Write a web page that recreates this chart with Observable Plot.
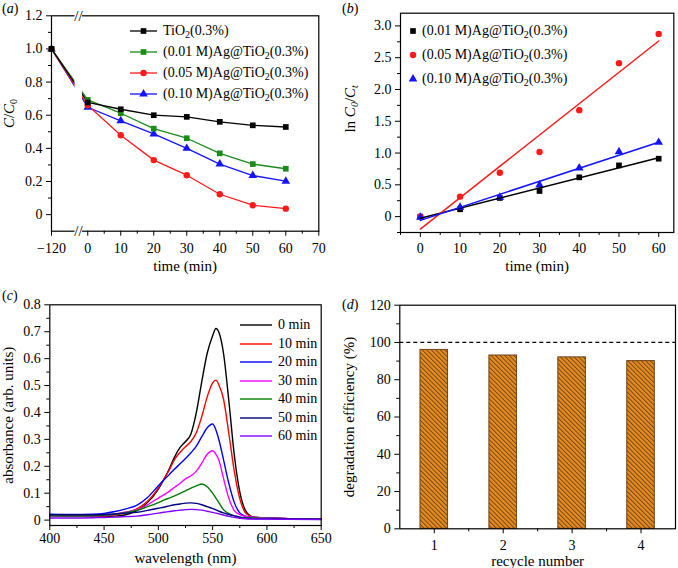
<!DOCTYPE html>
<html>
<head>
<meta charset="utf-8">
<script src="https://cdn.jsdelivr.net/npm/d3@7"></script>
<script src="https://cdn.jsdelivr.net/npm/@observablehq/plot@0.6"></script>
<style>
  html, body { margin: 0; padding: 0; background: #fff; }
  #fig { position: relative; width: 678px; height: 568px; overflow: hidden; font-family: "Liberation Serif", "Times New Roman", serif; color: #000; }
  .panel { position: absolute; }
  .plabel { position: absolute; font-size: 14px; line-height: 14px; }
  .lrow { position: absolute; height: 18px; display: flex; align-items: center; font-size: 14px; white-space: nowrap; }
  .lrow svg { display: block; flex: none; }
  sub { font-size: 10px; vertical-align: -3px; line-height: 0; }
</style>
</head>
<body>
<div id="fig"></div>
<script>
// ---------------- DATA ----------------
// (a) C/C0 vs time
const timeA = [-120, 0, 10, 20, 30, 40, 50, 60];
const seriesA = ["TiO2(0.3%)", "(0.01 M)Ag@TiO2(0.3%)", "(0.05 M)Ag@TiO2(0.3%)", "(0.10 M)Ag@TiO2(0.3%)"];
const cTiO2 = [1.0, 0.677, 0.636, 0.600, 0.590, 0.560, 0.539, 0.529];
const c001  = [1.0, 0.693, 0.612, 0.519, 0.461, 0.370, 0.305, 0.277];
const c005  = [1.0, 0.660, 0.479, 0.329, 0.238, 0.123, 0.057, 0.036];
const c010  = [1.0, 0.648, 0.566, 0.487, 0.400, 0.305, 0.236, 0.202];
const xTicksA = [-120, 0, 10, 20, 30, 40, 50, 60, 70];
const xMinorA = [5, 15, 25, 35, 45, 55, 65];
const yTicksA = [0, 0.2, 0.4, 0.6, 0.8, 1.0, 1.2];
const yMinorA = [0.1, 0.3, 0.5, 0.7, 0.9, 1.1];

// (b) ln(C0/Ct) vs time
const timeB = [0, 10, 20, 30, 40, 50, 60];
const seriesB = ["(0.01 M)Ag@TiO2(0.3%)", "(0.05 M)Ag@TiO2(0.3%)", "(0.10 M)Ag@TiO2(0.3%)"];
const ln001 = [0.0, 0.115, 0.293, 0.403, 0.618, 0.806, 0.911];
const ln005 = [0.0, 0.314, 0.691, 1.016, 1.675, 2.414, 2.874];
const ln010 = [-0.01, 0.147, 0.304, 0.497, 0.764, 1.021, 1.168];
const xTicksB = [0, 10, 20, 30, 40, 50, 60];
const xMinorB = [-5, 5, 15, 25, 35, 45, 55];
const yTicksB = [0, 0.5, 1.0, 1.5, 2.0, 2.5, 3.0];
const yMinorB = [-0.25, 0.25, 0.75, 1.25, 1.75, 2.25, 2.75];

// (c) absorbance spectra
const wavelength = [400, 420, 440, 450, 460, 470, 480, 490, 500, 505, 510, 515, 520, 525, 530, 535, 540, 545, 550, 553, 556, 560, 565, 570, 575, 580, 585, 590, 600, 620, 650];
const seriesC = ["0 min", "10 min", "20 min", "30 min", "40 min", "50 min", "60 min"];
const abs0  = [.020,.018,.015,.014,.015,.020,.035,.065,.115,.150,.190,.235,.270,.292,.320,.400,.515,.620,.685,.712,.695,.620,.440,.240,.105,.037,.015,.010,.008,.005,.003];
const abs10 = [.018,.017,.016,.016,.020,.028,.042,.070,.120,.152,.186,.226,.252,.273,.292,.325,.385,.458,.510,.520,.500,.450,.320,.180,.080,.028,.014,.010,.008,.005,.003];
const abs20 = [.022,.021,.022,.025,.032,.042,.055,.084,.128,.149,.169,.190,.209,.229,.250,.275,.310,.343,.357,.335,.295,.225,.135,.065,.027,.015,.011,.010,.008,.005,.003];
const abs30 = [.015,.014,.015,.017,.022,.030,.038,.057,.082,.094,.107,.122,.137,.153,.165,.182,.212,.245,.258,.245,.220,.155,.080,.035,.020,.014,.011,.010,.008,.005,.003];
const abs40 = [.016,.015,.016,.018,.022,.028,.036,.050,.065,.074,.082,.090,.099,.109,.119,.127,.134,.124,.100,.082,.063,.039,.024,.016,.011,.009,.008,.008,.007,.005,.003];
const abs50 = [.020,.020,.020,.021,.023,.026,.029,.036,.044,.048,.053,.057,.060,.063,.064,.062,.057,.050,.043,.038,.033,.027,.021,.016,.011,.007,.006,.005,.005,.004,.003];
const abs60 = [.008,.008,.009,.010,.011,.013,.015,.020,.026,.029,.032,.035,.037,.039,.040,.039,.037,.033,.029,.026,.023,.019,.014,.010,.007,.005,.004,.004,.004,.003,.002];
const xTicksC = [400, 450, 500, 550, 600, 650];
const xMinorC = [425, 475, 525, 575, 625];
const yTicksC = [0, 0.1, 0.2, 0.3, 0.4, 0.5, 0.6, 0.7, 0.8];
const yMinorC = [0.05, 0.15, 0.25, 0.35, 0.45, 0.55, 0.65, 0.75];

// (d) recycling
const cycles = [1, 2, 3, 4];
const efficiency = [96, 93, 92, 90];
const reference100 = [100];
const xMinorD = [1.5, 2.5, 3.5];
const yTicksD = [0, 20, 40, 60, 80, 100, 120];
const yMinorD = [10, 30, 50, 70, 90, 110];

// ---------------- STYLE ----------------
const colorsA = ["#000000", "#1a8c1a", "#ff1a1a", "#1414ff"];
const symbolsA = ["square", "square", "circle", "triangle"];
const colorsB = ["#000000", "#ff1a1a", "#1414ff"];
const symbolsB = ["square", "circle", "triangle"];
const colorsC = ["#000000", "#ff0000", "#0000ff", "#ff00ff", "#007a00", "#000080", "#7f00ff"];
const FONT = "Liberation Serif";
const baseStyle = {fontFamily: FONT, fontSize: "14px", background: "transparent", overflow: "visible", color: "#000"};
const fmt1 = d => d === 0 ? "0" : d.toFixed(1);
const fmtMinus = d => d < 0 ? "\u2212" + (-d) : String(d);
const blank = () => "";

// axis break on panel (a)
const breakPivot = -2.8, breakLo = -18, breakHi = -1.6;
const yDomA = [-0.1, 1.2];
const breakBand = [{x1: breakLo, x2: breakHi, y1: yDomA[0], y2: yDomA[1]}];
const breakMarks = [{x: breakPivot, y: yDomA[0], s: "//"}, {x: breakPivot, y: yDomA[1], s: "//"}];

const fig = document.getElementById("fig");
function place(el, left, top) {
  const d = document.createElement("div");
  d.className = "panel"; d.style.left = left + "px"; d.style.top = top + "px";
  d.appendChild(el); fig.appendChild(d); return d;
}
function setLabel(svg, axis, html, size, shift) {
  const t = d3.select(svg).select(`g[aria-label="${axis}-axis label"] text`);
  if (t.empty()) return;
  t.html(html).attr("font-size", size);
  if (shift) t.attr("dx", shift);
}

// ---------------- (a) ----------------
const valsA = [cTiO2, c001, c005, c010];
const dataA = [];
for (let i = seriesA.length - 1; i >= 0; --i)
  timeA.forEach((t, j) => dataA.push({series: seriesA[i], t, c: valsA[i][j]}));

const plotA = Plot.plot({
  width: 330, height: 272,
  marginLeft: 51, marginRight: 11.7, marginTop: 15.3, marginBottom: 41.3,
  style: baseStyle,
  x: {type: "linear", domain: [-120, breakPivot, 70], range: [51, 78, 318.3]},
  y: {domain: yDomA},
  color: {domain: seriesA, range: colorsA},
  symbol: {domain: seriesA, range: symbolsA},
  marks: [
    Plot.axisX({ticks: xTicksA, tickSize: 5, tickPadding: 7, tickFormat: fmtMinus, label: "time (min)", labelAnchor: "center", labelOffset: 40}),
    Plot.axisX({ticks: xMinorA, tickSize: 3, tickFormat: blank, label: null}),
    Plot.axisY({ticks: yTicksA, tickSize: 5, tickPadding: 4, tickFormat: fmt1, label: "C/C0", labelAnchor: "center", labelOffset: 48}),
    Plot.axisY({ticks: yMinorA, tickSize: 3, tickFormat: blank, label: null}),
    Plot.line(dataA, {x: "t", y: "c", z: "series", stroke: "series", strokeWidth: 1.3}),
    Plot.dot(dataA, {x: "t", y: "c", symbol: "series", fill: "series", stroke: "none", r: 3.2}),
    Plot.frame({stroke: "#000", strokeWidth: 1.2}),
    Plot.rect(breakBand, {x1: "x1", x2: "x2", y1: "y1", y2: "y2", fill: "white", stroke: "none", insetTop: -3, insetBottom: -3}),
    Plot.text(breakMarks, {x: "x", y: "y", text: "s", fontSize: 15, fill: "#000"})
  ]
});
place(plotA, 0, 0);
setLabel(plotA, "y", '<tspan font-style="italic">C</tspan>/<tspan font-style="italic">C</tspan><tspan font-size="10" dy="3">0</tspan>', 15, 10);
setLabel(plotA, "x", "time (min)", 15);

// ---------------- (b) ----------------
const valsB = [ln001, ln005, ln010];
const dataB = [];
seriesB.forEach((s, i) => timeB.forEach((t, j) => dataB.push({series: s, t, v: valsB[i][j]})));

const plotB = Plot.plot({
  width: 338, height: 272,
  marginLeft: 60, marginRight: 4.7, marginTop: 12.7, marginBottom: 40,
  style: baseStyle,
  x: {domain: [-5, 63.8]},
  y: {domain: [-0.25, 3.2]},
  color: {domain: seriesB, range: colorsB},
  symbol: {domain: seriesB, range: symbolsB},
  marks: [
    Plot.axisX({ticks: xTicksB, tickSize: 5, tickPadding: 6, tickFormat: d => String(d), label: "time (min)", labelAnchor: "center", labelOffset: 38}),
    Plot.axisX({ticks: xMinorB, tickSize: 3, tickFormat: blank, label: null}),
    Plot.axisY({ticks: yTicksB, tickSize: 5, tickPadding: 4, tickFormat: fmt1, label: "ln C0/Ct", labelAnchor: "center", labelOffset: 56}),
    Plot.axisY({ticks: yMinorB, tickSize: 3, tickFormat: blank, label: null}),
    Plot.dot(dataB, {x: "t", y: "v", symbol: "series", fill: "series", stroke: "none", r: 3.2}),
    Plot.linearRegressionY(dataB, {x: "t", y: "v", stroke: "series", ci: 0, strokeWidth: 1.5}),
    Plot.frame({stroke: "#000", strokeWidth: 1.2})
  ]
});
place(plotB, 340, 0);
setLabel(plotB, "y", 'ln <tspan font-style="italic">C</tspan><tspan font-size="10" dy="3" font-style="italic">0</tspan><tspan dy="-3">/</tspan><tspan font-style="italic">C</tspan><tspan font-size="10" dy="3" font-style="italic">t</tspan>', 15, 14);
setLabel(plotB, "x", "time (min)", 15);

// ---------------- (c) ----------------
const valsC = [abs0, abs10, abs20, abs30, abs40, abs50, abs60];
const dataC = [];
seriesC.forEach((s, i) => wavelength.forEach((w, j) => dataC.push({series: s, w, a: valsC[i][j]})));

const plotC = Plot.plot({
  width: 330, height: 286,
  marginLeft: 49.3, marginRight: 9.3, marginTop: 22.3, marginBottom: 43,
  style: baseStyle,
  x: {domain: [400, 650]},
  y: {domain: [-0.02, 0.8]},
  color: {domain: seriesC, range: colorsC},
  marks: [
    Plot.axisX({ticks: xTicksC, tickSize: 5, tickPadding: 3, tickFormat: d => String(d), label: "wavelength (nm)", labelAnchor: "center", labelOffset: 37}),
    Plot.axisX({ticks: xMinorC, tickSize: 3, tickFormat: blank, label: null}),
    Plot.axisY({ticks: yTicksC, tickSize: 5, tickPadding: 4, tickFormat: fmt1, label: "absorbance (arb. units)", labelAnchor: "center", labelOffset: 47}),
    Plot.axisY({ticks: yMinorC, tickSize: 3, tickFormat: blank, label: null}),
    Plot.line(dataC, {x: "w", y: "a", z: "series", stroke: "series", strokeWidth: 1.4, curve: "monotone-x"}),
    Plot.frame({stroke: "#000", strokeWidth: 1.2})
  ]
});
place(plotC, 0, 282);
setLabel(plotC, "x", "wavelength (nm)", 15);
setLabel(plotC, "y", "absorbance (arb. units)", 15);

// ---------------- (d) ----------------
const dataD = cycles.map((c, i) => ({cycle: c, eff: efficiency[i]}));
const halfBar = 0.2;
const plotD = Plot.plot({
  width: 338, height: 286,
  marginLeft: 59.3, marginRight: 3, marginTop: 22.7, marginBottom: 39.7,
  style: baseStyle,
  x: {domain: [0.5, 4.5]},
  y: {domain: [0, 120]},
  marks: [
    Plot.axisX({ticks: cycles, tickSize: 5, tickPadding: 6, tickFormat: d => String(d), label: "recycle number", labelAnchor: "center", labelOffset: 37}),
    Plot.axisX({ticks: xMinorD, tickSize: 3, tickFormat: blank, label: null}),
    Plot.axisY({ticks: yTicksD, tickSize: 5, tickPadding: 4, tickFormat: d => String(d), label: "degradation efficiency (%)", labelAnchor: "center", labelOffset: 56}),
    Plot.axisY({ticks: yMinorD, tickSize: 3, tickFormat: blank, label: null}),
    Plot.rectY(dataD, {x1: d => d.cycle - halfBar, x2: d => d.cycle + halfBar, y1: 0, y2: "eff", fill: "url(#hatchD)", stroke: "#6b4418", strokeWidth: 1}),
    Plot.ruleY(reference100, {stroke: "#000", strokeWidth: 1.2, strokeDasharray: "4,3"}),
    Plot.frame({stroke: "#000", strokeWidth: 1.2})
  ]
});
d3.select(plotD).insert("defs", ":first-child").html(
  '<pattern id="hatchD" patternUnits="userSpaceOnUse" width="3.2" height="3.2" patternTransform="rotate(-45)">' +
  '<rect width="3.2" height="3.2" fill="#e58c22"/>' +
  '<line x1="0.5" y1="0" x2="0.5" y2="3.2" stroke="#6e3f0c" stroke-width="0.9"/></pattern>');
place(plotD, 340, 282);
setLabel(plotD, "x", "recycle number", 15);
setLabel(plotD, "y", "degradation efficiency (%)", 15);

// ---------------- legends & panel letters ----------------
function symbolPath(type, size) {
  const map = {square: d3.symbolSquare, circle: d3.symbolCircle, triangle: d3.symbolTriangle};
  return d3.symbol(map[type], size)();
}
function addRow(left, cy, swatchSvg, html) {
  const r = document.createElement("div");
  r.className = "lrow";
  r.style.left = left + "px"; r.style.top = (cy - 9) + "px";
  r.innerHTML = swatchSvg + '<span>' + html + '</span>';
  fig.appendChild(r);
}
const subTi = s => s.replace("TiO2", "TiO<sub>2</sub>");
const symSize = Math.PI * 3.2 * 3.2;

// legend (a)
seriesA.forEach((s, i) => {
  const sw = `<svg width="33" height="18"><line x1="0" x2="27" y1="9" y2="9" stroke="${colorsA[i]}" stroke-width="1.3"/>` +
             `<path transform="translate(13.5,9)" d="${symbolPath(symbolsA[i], symSize)}" fill="${colorsA[i]}"/></svg>`;
  addRow(130, 30.7 + i * 21.1, sw, subTi(s));
});
// legend (b)
seriesB.forEach((s, i) => {
  const sw = `<svg width="14" height="18"><path transform="translate(5,9)" d="${symbolPath(symbolsB[i], symSize)}" fill="${colorsB[i]}"/></svg>`;
  addRow(408, 31 + i * 24, sw, subTi(s));
});
// legend (c)
seriesC.forEach((s, i) => {
  const sw = `<svg width="38" height="18"><line x1="0" x2="32" y1="9" y2="9" stroke="${colorsC[i]}" stroke-width="1.4"/></svg>`;
  addRow(240, 325 + i * 18.5, sw, s);
});

[["a", 2, 2], ["b", 342, 2], ["c", 2, 289], ["d", 342, 298]].forEach(([l, x, y]) => {
  const d = document.createElement("div");
  d.className = "plabel"; d.style.left = x + "px"; d.style.top = y + "px";
  d.innerHTML = "(<i>" + l + "</i>)";
  fig.appendChild(d);
});
</script>
</body>
</html>
